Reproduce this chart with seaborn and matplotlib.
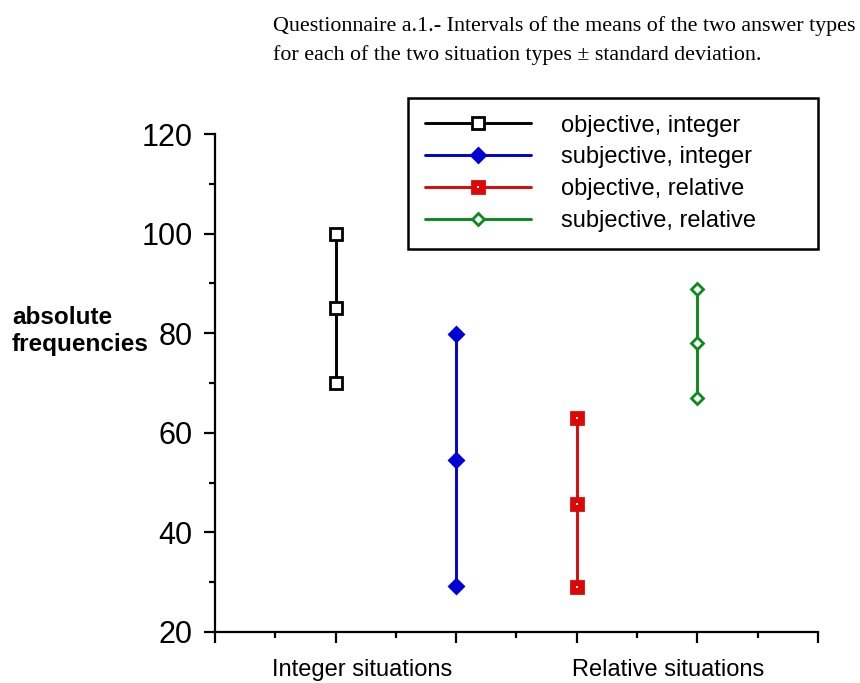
import pandas as pd
import matplotlib
matplotlib.use("Agg")
import matplotlib.pyplot as plt
from matplotlib.legend_handler import HandlerTuple
from matplotlib.ticker import MultipleLocator, NullFormatter
import seaborn as sns

# ---- data ------------------------------------------------------------
series_labels = ["objective, integer", "subjective, integer",
                 "objective, relative", "subjective, relative"]
series_x = [2, 4, 6, 8]
lower = [70.0, 29.3, 29.1, 66.9]    # mean - sd
means = [85.0, 54.6, 45.8, 78.0]
upper = [100.0, 79.8, 62.9, 88.8]   # mean + sd
group_labels = ["Integer situations", "Relative situations"]
group_x = [2.44, 7.51]

colors = ["black", "#0000d4", "#dd0806", "#0a8a1a"]
markers = ["s", "D", "s", "D"]
faces = ["white", "#0000d4", "#dd0806", "white"]
sizes = [8, 7, 8.5, 6.5]

rows = []
for lab, x, lo, m, hi in zip(series_labels, series_x, lower, means, upper):
    for v in (lo, m, hi):
        rows.append({"series": lab, "x": x, "y": v})
df = pd.DataFrame(rows)

sns.set_theme(style="ticks")
plt.rcParams["font.family"] = ["Liberation Sans", "DejaVu Sans"]
plt.rcParams["text.color"] = "black"

fig = plt.figure(figsize=(8.6, 6.83), dpi=100)
ax = fig.add_axes([0.25, 0.0747, 0.701, 0.729])

handles = []
for i, lab in enumerate(series_labels):
    sub = df[df["series"] == lab]
    sns.lineplot(data=sub, x="x", y="y", estimator=None, sort=False, ax=ax,
                 color=colors[i], lw=2.1, marker=markers[i], ms=sizes[i],
                 markerfacecolor=faces[i], markeredgecolor=colors[i],
                 markeredgewidth=2, label=lab)
    line = ax.lines[-1]
    if i == 2:
        # little white dot inside the red squares
        dot, = ax.plot(sub["x"], sub["y"], ls="none", marker="s", ms=2,
                       color="white", mew=0)
        handles.append((line, dot))
    else:
        handles.append(line)

ax.set_xlim(0, 10)
ax.set_ylim(20, 120)
ax.xaxis.set_major_locator(MultipleLocator(2))
ax.xaxis.set_minor_locator(MultipleLocator(1))
ax.xaxis.set_major_formatter(NullFormatter())
ax.yaxis.set_major_locator(MultipleLocator(20))
ax.yaxis.set_minor_locator(MultipleLocator(10))
ax.set_xlabel("")
ax.set_ylabel("")
sns.despine(ax=ax)
for s in ("left", "bottom"):
    ax.spines[s].set_linewidth(1.6)
    ax.spines[s].set_color("black")
ax.tick_params(which="major", length=8, width=1.6, color="black",
               labelsize=22, pad=8, labelcolor="black")
ax.tick_params(which="minor", length=4, width=1.6, color="black")

for lab, gx in zip(group_labels, group_x):
    ax.text(gx, -0.077, lab, transform=ax.get_xaxis_transform(),
            ha="center", va="center", fontsize=17, color="black")

fig.text(12 / 860, 1 - 331 / 683, "absolute\nfrequencies", ha="left",
         va="center", fontsize=17.5, fontweight="bold", linespacing=1.2,
         color="black")

fig.text(273 / 860, 1 - 16 / 683,
         "Questionnaire a.1.- Intervals of the means of the two answer types\n"
         "for each of the two situation types \u00b1 standard deviation.",
         ha="left", va="top", fontsize=15.8, linespacing=1.6, color="black",
         family=["Liberation Serif", "DejaVu Serif"])

leg = ax.legend(handles, series_labels, loc="upper left",
                bbox_to_anchor=(408 / 860, 1 - 98 / 683 - 0.1, 410 / 860, 0.1),
                bbox_transform=fig.transFigure, mode="expand",
                fontsize=17, frameon=True, fancybox=False, framealpha=1,
                edgecolor="black", handlelength=4.5, handletextpad=1.3,
                labelspacing=0.42, borderpad=0.7, borderaxespad=0,
                labelcolor="black",
                handler_map={tuple: HandlerTuple(ndivide=1)})
leg.get_frame().set_linewidth(1.8)

fig.savefig("out.png", dpi=100)
